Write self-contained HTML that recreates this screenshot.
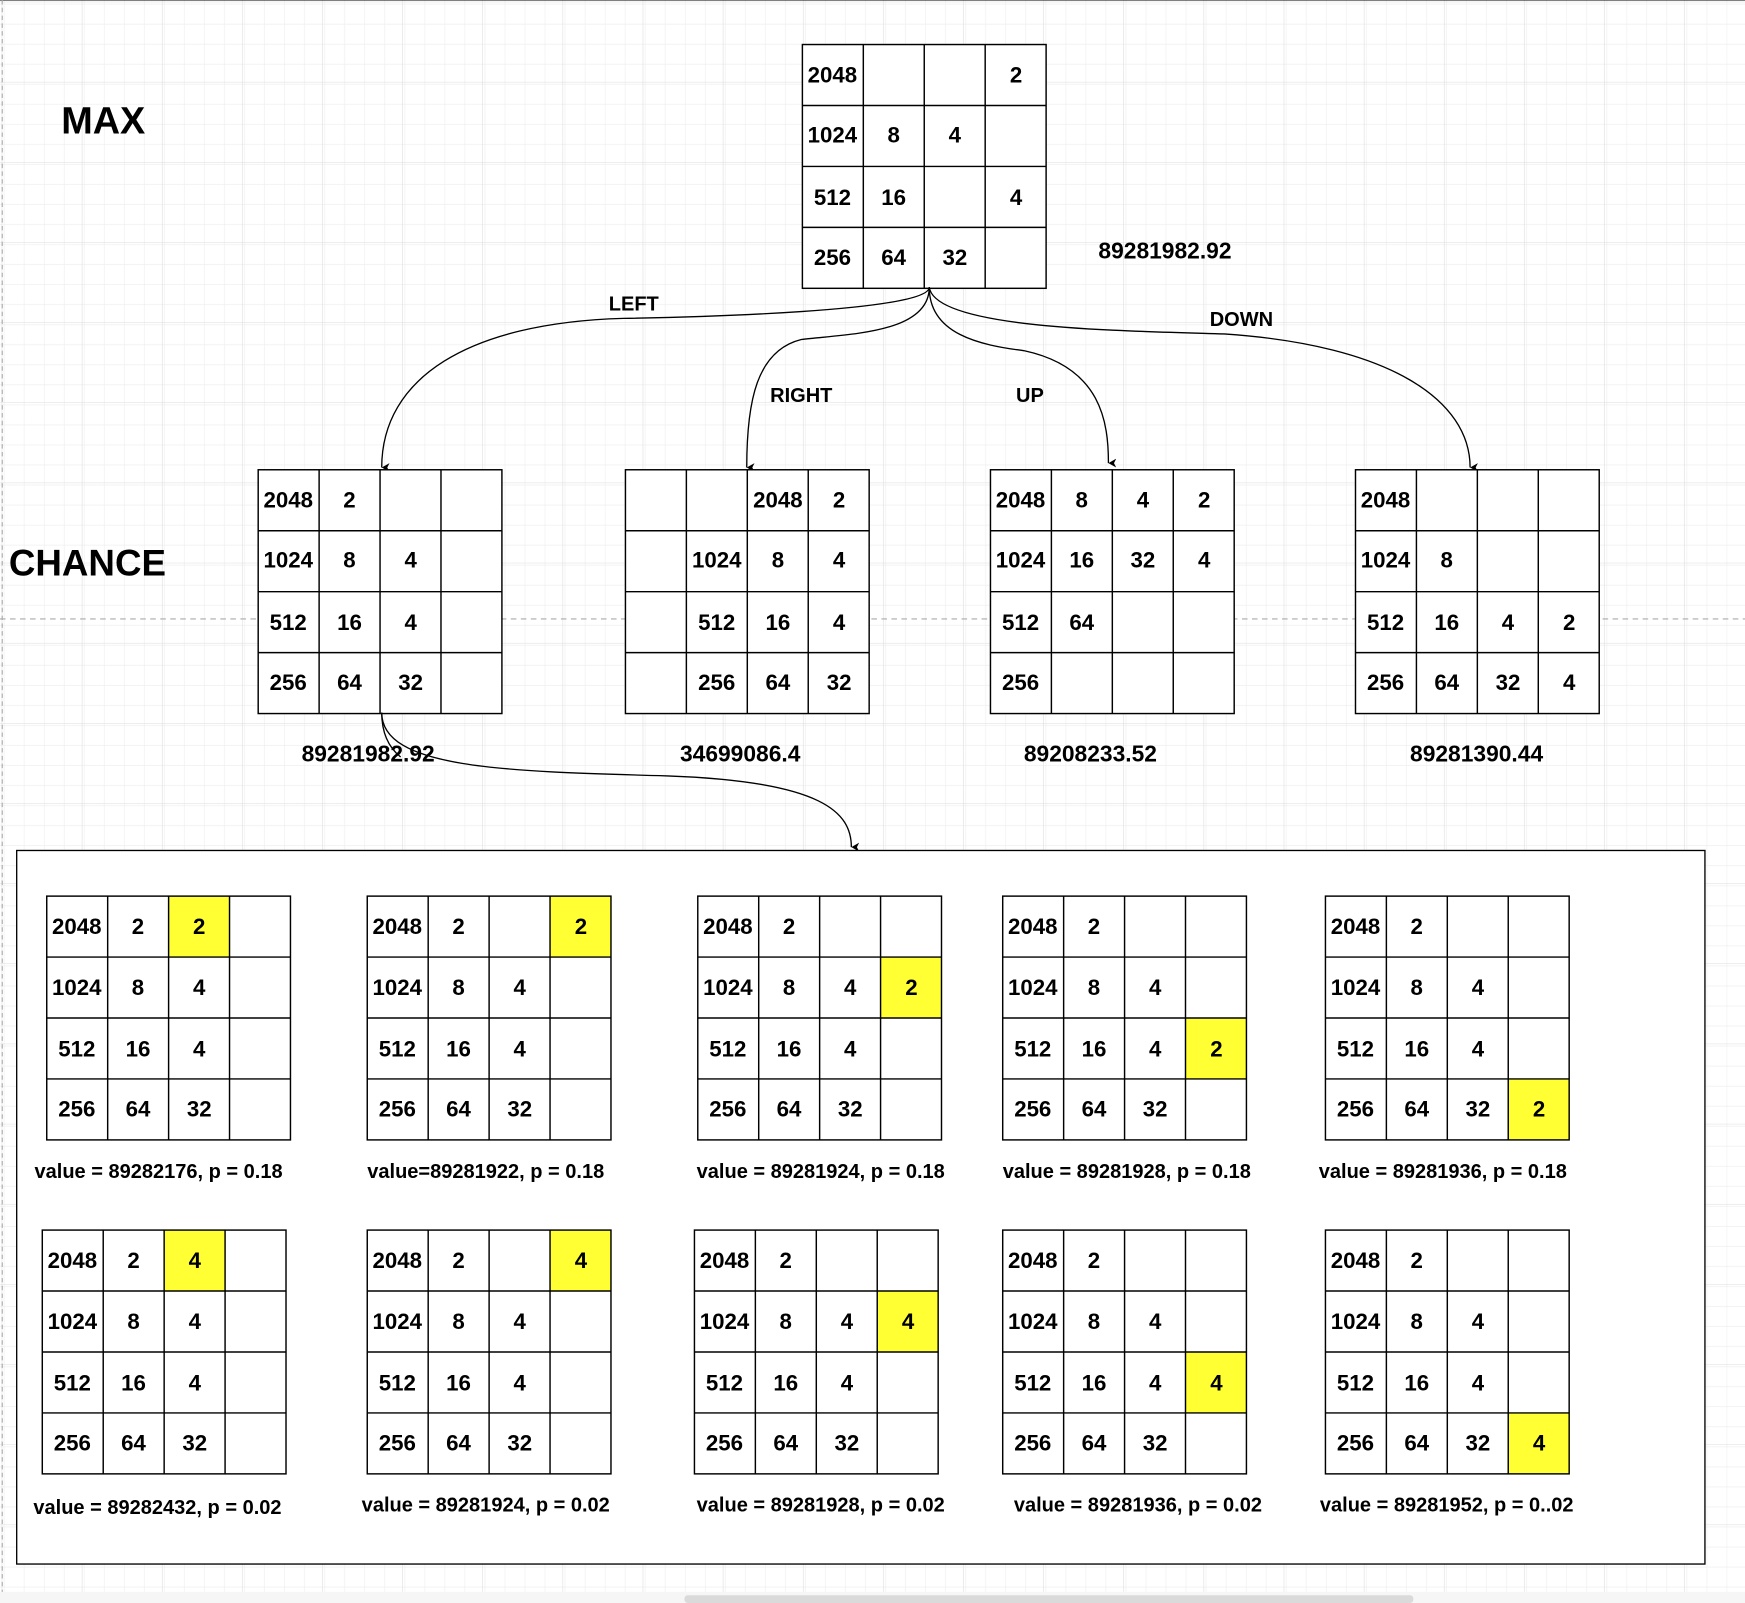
<!DOCTYPE html>
<html><head><meta charset="utf-8"><style>
html,body{margin:0;padding:0;background:#fff}
svg{display:block}
text{font-family:"Liberation Sans",Arial,sans-serif;font-weight:bold;fill:#000}
.c text{font-size:20px;text-anchor:middle}
.lbl{font-size:18px}
.num{font-size:20.5px}
</style></head><body>
<svg width="1745" height="1603" viewBox="0 0 1568 1440" preserveAspectRatio="none" xmlns="http://www.w3.org/2000/svg">
<defs>
<pattern id="mn" width="18" height="18" patternUnits="userSpaceOnUse" x="2" y="2">
<path d="M18 0V18H0" fill="none" stroke="#ececec" stroke-width="1"/>
</pattern>
<pattern id="mj" width="72" height="72" patternUnits="userSpaceOnUse" x="2" y="2">
<rect width="72" height="72" fill="url(#mn)"/>
<path d="M72 0V72H0" fill="none" stroke="#dcdcdc" stroke-width="1"/>
</pattern>
<g id="g">
<rect x="0" y="0" width="219" height="219" fill="none" stroke="#000" stroke-width="1.3"/>
<path d="M54.75 0V219M109.5 0V219M164.25 0V219M0 54.75H219M0 109.5H219M0 164.25H219" stroke="#000" stroke-width="1.3" fill="none"/>
</g>
<marker id="ar" markerWidth="8" markerHeight="8" refX="4" refY="7" orient="auto-start-reverse" markerUnits="userSpaceOnUse">
<path d="M0,0 L4,7 L8,0 L4,2 Z" fill="#000"/>
</marker>
</defs>
<rect width="1568" height="1440" fill="url(#mj)"/>
<line x1="0" y1="0" x2="1568" y2="0" stroke="#000" stroke-width="1"/>
<line x1="2" y1="0" x2="2" y2="1440" stroke="#aaa" stroke-dasharray="4,3"/>
<line x1="0" y1="556" x2="1568" y2="556" stroke="#aaa" stroke-dasharray="5,4"/>
<text x="55" y="120" style="font-size:34px">MAX</text>
<text x="8" y="517" style="font-size:33px;textLength:147">CHANCE</text>

<!-- top grid -->
<g class="c" transform="translate(721,40)"><rect width="219" height="219" fill="#fff"/><use href="#g"/>
<text x="27" y="34">2048</text><text x="192" y="34">2</text>
<text x="27" y="88">1024</text><text x="82" y="88">8</text><text x="137" y="88">4</text>
<text x="27" y="144">512</text><text x="82" y="144">16</text><text x="192" y="144">4</text>
<text x="27" y="198">256</text><text x="82" y="198">64</text><text x="137" y="198">32</text></g>
<text class="num" x="987" y="232">89281982.92</text>

<!-- edges -->
<g fill="none" stroke="#000" stroke-width="1.2">
<path d="M835,258 C835,280 620,285 560,286 C420,290 343,340 343,420" marker-end="url(#ar)"/>
<path d="M835,258 C835,300 760,300 720,305 C680,315 671,360 671,420" marker-end="url(#ar)"/>
<path d="M835,258 C835,300 880,310 920,315 C990,330 996,380 996,416" marker-end="url(#ar)"/>
<path d="M835,258 C840,295 1000,297 1100,300 C1250,310 1321,360 1321,420" marker-end="url(#ar)"/>
<path d="M343,640 C343,690 450,693 600,697 C740,702 765,730 765,761" marker-end="url(#ar)"/>
</g>
<text class="lbl" x="547" y="279">LEFT</text>
<text class="lbl" x="692" y="361">RIGHT</text>
<text class="lbl" x="913" y="361">UP</text>
<text class="lbl" x="1087" y="293">DOWN</text>

<!-- chance grids -->
<g class="c" transform="translate(232,422)"><rect width="219" height="219" fill="#fff"/><use href="#g"/>
<text x="27" y="34">2048</text><text x="82" y="34">2</text>
<text x="27" y="88">1024</text><text x="82" y="88">8</text><text x="137" y="88">4</text>
<text x="27" y="144">512</text><text x="82" y="144">16</text><text x="137" y="144">4</text>
<text x="27" y="198">256</text><text x="82" y="198">64</text><text x="137" y="198">32</text></g>
<g class="c" transform="translate(562,422)"><rect width="219" height="219" fill="#fff"/><use href="#g"/>
<text x="137" y="34">2048</text><text x="192" y="34">2</text>
<text x="82" y="88">1024</text><text x="137" y="88">8</text><text x="192" y="88">4</text>
<text x="82" y="144">512</text><text x="137" y="144">16</text><text x="192" y="144">4</text>
<text x="82" y="198">256</text><text x="137" y="198">64</text><text x="192" y="198">32</text></g>
<g class="c" transform="translate(890,422)"><rect width="219" height="219" fill="#fff"/><use href="#g"/>
<text x="27" y="34">2048</text><text x="82" y="34">8</text><text x="137" y="34">4</text><text x="192" y="34">2</text>
<text x="27" y="88">1024</text><text x="82" y="88">16</text><text x="137" y="88">32</text><text x="192" y="88">4</text>
<text x="27" y="144">512</text><text x="82" y="144">64</text>
<text x="27" y="198">256</text></g>
<g class="c" transform="translate(1218,422)"><rect width="219" height="219" fill="#fff"/><use href="#g"/>
<text x="27" y="34">2048</text>
<text x="27" y="88">1024</text><text x="82" y="88">8</text>
<text x="27" y="144">512</text><text x="82" y="144">16</text><text x="137" y="144">4</text><text x="192" y="144">2</text>
<text x="27" y="198">256</text><text x="82" y="198">64</text><text x="137" y="198">32</text><text x="192" y="198">4</text></g>
<path d="M343,640 C343,660 350,672 360,680" fill="none" stroke="#000" stroke-width="1.2"/>
<text class="num" x="271" y="684">89281982.92</text>
<text class="num" x="611" y="684">34699086.4</text>
<text class="num" x="920" y="684">89208233.52</text>
<text class="num" x="1267" y="684">89281390.44</text>

<!-- container -->
<rect x="15" y="764" width="1517" height="641" fill="#fff" stroke="#000" stroke-width="1.2"/>

<!-- row 1 -->
<g class="c" transform="translate(42,805)"><rect x="109.5" y="0" width="54.75" height="54.75" fill="#ffff33"/><use href="#g"/>
<text x="27" y="34">2048</text><text x="82" y="34">2</text><text x="137" y="34">2</text>
<text x="27" y="89">1024</text><text x="82" y="89">8</text><text x="137" y="89">4</text>
<text x="27" y="144">512</text><text x="82" y="144">16</text><text x="137" y="144">4</text>
<text x="27" y="198">256</text><text x="82" y="198">64</text><text x="137" y="198">32</text></g>
<g class="c" transform="translate(330,805)"><rect x="164.25" y="0" width="54.75" height="54.75" fill="#ffff33"/><use href="#g"/>
<text x="27" y="34">2048</text><text x="82" y="34">2</text><text x="192" y="34">2</text>
<text x="27" y="89">1024</text><text x="82" y="89">8</text><text x="137" y="89">4</text>
<text x="27" y="144">512</text><text x="82" y="144">16</text><text x="137" y="144">4</text>
<text x="27" y="198">256</text><text x="82" y="198">64</text><text x="137" y="198">32</text></g>
<g class="c" transform="translate(627,805)"><rect x="164.25" y="54.75" width="54.75" height="54.75" fill="#ffff33"/><use href="#g"/>
<text x="27" y="34">2048</text><text x="82" y="34">2</text>
<text x="27" y="89">1024</text><text x="82" y="89">8</text><text x="137" y="89">4</text><text x="192" y="89">2</text>
<text x="27" y="144">512</text><text x="82" y="144">16</text><text x="137" y="144">4</text>
<text x="27" y="198">256</text><text x="82" y="198">64</text><text x="137" y="198">32</text></g>
<g class="c" transform="translate(901,805)"><rect x="164.25" y="109.5" width="54.75" height="54.75" fill="#ffff33"/><use href="#g"/>
<text x="27" y="34">2048</text><text x="82" y="34">2</text>
<text x="27" y="89">1024</text><text x="82" y="89">8</text><text x="137" y="89">4</text>
<text x="27" y="144">512</text><text x="82" y="144">16</text><text x="137" y="144">4</text><text x="192" y="144">2</text>
<text x="27" y="198">256</text><text x="82" y="198">64</text><text x="137" y="198">32</text></g>
<g class="c" transform="translate(1191,805)"><rect x="164.25" y="164.25" width="54.75" height="54.75" fill="#ffff33"/><use href="#g"/>
<text x="27" y="34">2048</text><text x="82" y="34">2</text>
<text x="27" y="89">1024</text><text x="82" y="89">8</text><text x="137" y="89">4</text>
<text x="27" y="144">512</text><text x="82" y="144">16</text><text x="137" y="144">4</text>
<text x="27" y="198">256</text><text x="82" y="198">64</text><text x="137" y="198">32</text><text x="192" y="198">2</text></g>
<text class="lbl" x="31" y="1058">value = 89282176, p = 0.18</text>
<text class="lbl" x="330" y="1058">value=89281922, p = 0.18</text>
<text class="lbl" x="626" y="1058">value = 89281924, p = 0.18</text>
<text class="lbl" x="901" y="1058">value = 89281928, p = 0.18</text>
<text class="lbl" x="1185" y="1058">value = 89281936, p = 0.18</text>

<!-- row 2 -->
<g class="c" transform="translate(38,1105)"><rect x="109.5" y="0" width="54.75" height="54.75" fill="#ffff33"/><use href="#g"/>
<text x="27" y="34">2048</text><text x="82" y="34">2</text><text x="137" y="34">4</text>
<text x="27" y="89">1024</text><text x="82" y="89">8</text><text x="137" y="89">4</text>
<text x="27" y="144">512</text><text x="82" y="144">16</text><text x="137" y="144">4</text>
<text x="27" y="198">256</text><text x="82" y="198">64</text><text x="137" y="198">32</text></g>
<g class="c" transform="translate(330,1105)"><rect x="164.25" y="0" width="54.75" height="54.75" fill="#ffff33"/><use href="#g"/>
<text x="27" y="34">2048</text><text x="82" y="34">2</text><text x="192" y="34">4</text>
<text x="27" y="89">1024</text><text x="82" y="89">8</text><text x="137" y="89">4</text>
<text x="27" y="144">512</text><text x="82" y="144">16</text><text x="137" y="144">4</text>
<text x="27" y="198">256</text><text x="82" y="198">64</text><text x="137" y="198">32</text></g>
<g class="c" transform="translate(624,1105)"><rect x="164.25" y="54.75" width="54.75" height="54.75" fill="#ffff33"/><use href="#g"/>
<text x="27" y="34">2048</text><text x="82" y="34">2</text>
<text x="27" y="89">1024</text><text x="82" y="89">8</text><text x="137" y="89">4</text><text x="192" y="89">4</text>
<text x="27" y="144">512</text><text x="82" y="144">16</text><text x="137" y="144">4</text>
<text x="27" y="198">256</text><text x="82" y="198">64</text><text x="137" y="198">32</text></g>
<g class="c" transform="translate(901,1105)"><rect x="164.25" y="109.5" width="54.75" height="54.75" fill="#ffff33"/><use href="#g"/>
<text x="27" y="34">2048</text><text x="82" y="34">2</text>
<text x="27" y="89">1024</text><text x="82" y="89">8</text><text x="137" y="89">4</text>
<text x="27" y="144">512</text><text x="82" y="144">16</text><text x="137" y="144">4</text><text x="192" y="144">4</text>
<text x="27" y="198">256</text><text x="82" y="198">64</text><text x="137" y="198">32</text></g>
<g class="c" transform="translate(1191,1105)"><rect x="164.25" y="164.25" width="54.75" height="54.75" fill="#ffff33"/><use href="#g"/>
<text x="27" y="34">2048</text><text x="82" y="34">2</text>
<text x="27" y="89">1024</text><text x="82" y="89">8</text><text x="137" y="89">4</text>
<text x="27" y="144">512</text><text x="82" y="144">16</text><text x="137" y="144">4</text>
<text x="27" y="198">256</text><text x="82" y="198">64</text><text x="137" y="198">32</text><text x="192" y="198">4</text></g>
<text class="lbl" x="30" y="1360">value = 89282432, p = 0.02</text>
<text class="lbl" x="325" y="1358">value = 89281924, p = 0.02</text>
<text class="lbl" x="626" y="1358">value = 89281928, p = 0.02</text>
<text class="lbl" x="911" y="1358">value = 89281936, p = 0.02</text>
<text class="lbl" x="1186" y="1358">value = 89281952, p = 0..02</text>

<rect x="0" y="1430" width="1568" height="10" fill="#f6f6f6"/>
<rect x="615" y="1433" width="655" height="7" rx="3" fill="#dadada"/>
</svg>
</body></html>
